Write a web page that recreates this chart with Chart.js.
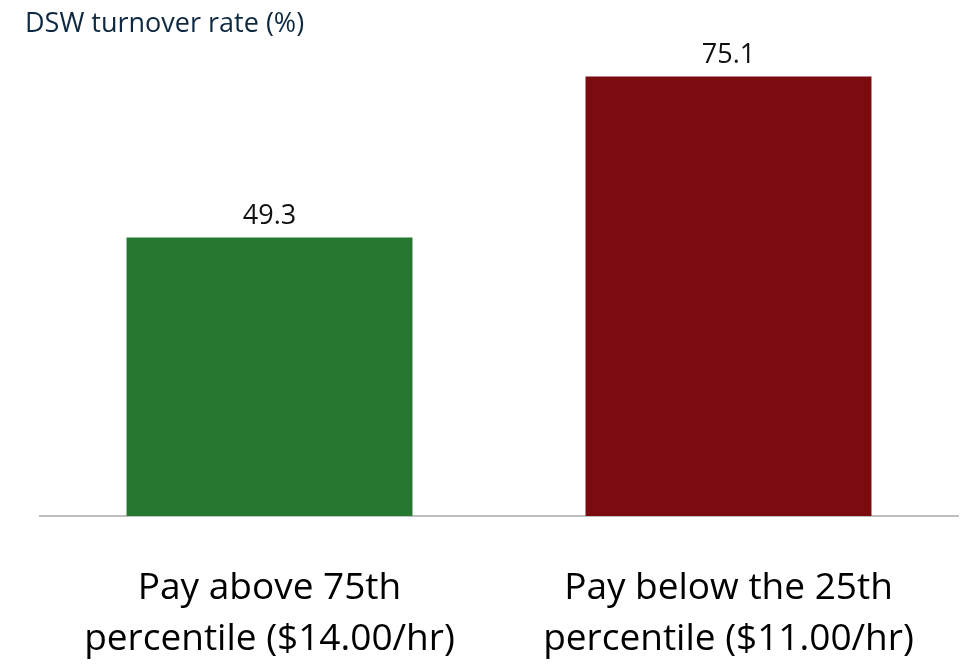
<!DOCTYPE html>
<html>
<head>
<meta charset="utf-8">
<script src="https://cdn.jsdelivr.net/npm/chart.js@4"></script>
<style>
  html, body { margin: 0; padding: 0; background: #fff; }
  #wrap { width: 962px; height: 668px; }
</style>
</head>
<body>
<div id="wrap"><canvas id="turnoverChart" width="962" height="668"></canvas></div>
<script>
const categories = [
  ['Pay above 75th', 'percentile ($14.00/hr)'],
  ['Pay below the 25th', 'percentile ($11.00/hr)']
];
const turnoverRate = [49.3, 75.1];
const barColors = ['#267830', '#7b0b0e'];
const axisTitle = 'DSW turnover rate (%)';

const FONT = "'Open Sans', 'Noto Sans', sans-serif";

// Axis caption top-left + value labels above bars
const labelsPlugin = {
  id: 'labels',
  afterDatasetsDraw(chart) {
    const ctx = chart.ctx;
    ctx.save();
    ctx.font = '27px ' + FONT;
    ctx.fillStyle = '#0e2841';
    ctx.textAlign = 'left';
    ctx.textBaseline = 'alphabetic';
    ctx.fillText(axisTitle, 25, 32);

    ctx.font = '27px ' + FONT;
    ctx.fillStyle = '#111';
    ctx.textAlign = 'center';
    const meta = chart.getDatasetMeta(0);
    meta.data.forEach((bar, i) => {
      ctx.fillText(turnoverRate[i].toFixed(1), bar.x, bar.y - 14);
    });
    ctx.restore();
  }
};

const ctx = document.getElementById('turnoverChart').getContext('2d');
new Chart(ctx, {
  type: 'bar',
  data: {
    labels: categories,
    datasets: [{
      data: turnoverRate,
      backgroundColor: barColors,
      borderWidth: 0,
      barPercentage: 1,
      categoryPercentage: 0.623
    }]
  },
  options: {
    responsive: false,
    animation: false,
    layout: { padding: { top: 46, left: 40, right: 4, bottom: 0 } },
    plugins: {
      legend: { display: false },
      tooltip: { enabled: false }
    },
    scales: {
      x: {
        grid: { display: false, drawTicks: false },
        border: { display: true, color: '#bfbfbf', width: 2 },
        afterFit(scale) { scale.height = 152; },
        ticks: {
          color: '#000',
          padding: 47,
          maxRotation: 0,
          font: { family: FONT, size: 37, lineHeight: '51px' }
        }
      },
      y: {
        display: false,
        min: 4.7,
        max: 80
      }
    }
  },
  plugins: [labelsPlugin]
});
</script>
</body>
</html>
